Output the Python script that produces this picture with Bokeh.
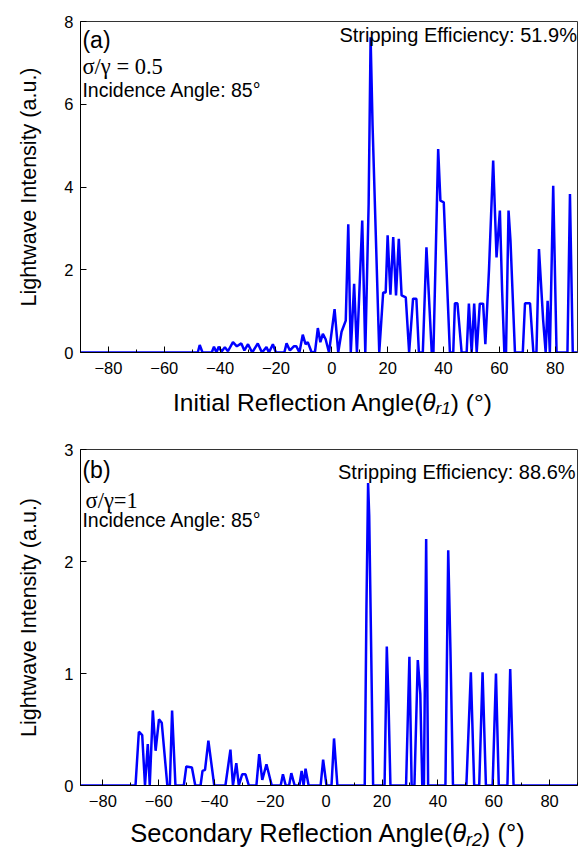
from bokeh.plotting import figure
from bokeh.layouts import column
from bokeh.models import Range1d, Label, Div, FixedTicker
from bokeh.embed import file_html
from bokeh.resources import INLINE

# ---------------- data ----------------
# Panel (a): initial reflection angle vs intensity, sigma/gamma = 0.5
x_a = [-90, -48, -47.3, -46.3, -43, -42.2, -41.3, -40.5, -39.5, -38.3, -37.2, -35.4, -34, -32.4,
       -31.3, -30, -28.5, -26.5, -25, -23.4, -22.5, -21.1, -20, -17, -16.2, -15, -13.6, -12.7,
       -11.6, -10.4, -9.4, -8.6, -7.2, -6, -5, -4.1, -3.2, -2.2, -1.0, 1.0, 2.3, 3.5, 5.0, 5.9,
       6.8, 8.0, 9.0, 10.9, 12.0, 13.2, 13.9, 14.6, 17.0, 18.4, 19.3, 20.0, 21.0, 22.0, 23.0,
       24.0, 25.0, 26.5, 27.7, 29.1, 30.3, 31.2, 32.6, 33.9, 35.8, 36.4, 38.1, 38.9, 40.1, 42.3,
       43.5, 44.1, 45.0, 46.5, 48.3, 49.1, 50.1, 51.0, 51.9, 53.0, 54.2, 55.0, 56.3, 57.8, 59.0,
       60.2, 61.0, 61.8, 62.4, 63.3, 64.0, 65.6, 68.4, 69.2, 71.0, 72.2, 73.3, 74.2, 75.7, 76.6,
       77.3, 78.1, 79.3, 80.5, 84.4, 85.3, 86.3, 88]
y_a = [0, 0, 0.18, 0, 0, 0.14, 0, 0.14, 0.02, 0.13, 0.03, 0.25, 0.15, 0.22,
       0.05, 0.2, 0, 0.22, 0, 0.13, 0, 0.2, 0, 0, 0.22, 0.05, 0.15, 0.15,
       0, 0.43, 0.2, 0.25, 0, 0.02, 0.59, 0.25, 0.45, 0.32, 0, 1.05, 0, 0.5, 0.77, 3.1,
       0, 1.66, 0, 3.19, 0, 3.6, 7.62, 5.5, 0, 1.45, 1.45, 2.83, 1.4, 2.79, 1.38,
       2.75, 1.38, 1.33, 0, 1.3, 1.3, 0, 0, 2.54, 0, 0, 4.92, 3.67, 3.63, 0,
       0, 1.19, 1.19, 0, 0, 1.18, 0, 1.18, 0, 1.18, 1.18, 0.2, 2.0, 4.64, 2.3,
       3.43, 1.5, 0, 0, 3.43, 2.7, 0, 0, 1.19, 1.19, 0, 0, 2.5, 0.78, 0,
       1.25, 0, 4.03, 0, 0, 3.83, 0, 0]

# Panel (b): secondary reflection angle vs intensity, sigma/gamma = 1
x_b = [-88, -68.3, -67.1, -65.9, -64.9, -63.9, -63.2, -62.1, -61.1, -59.9, -58.9, -56.9, -56.0,
       -55.2, -54.0, -51.0, -50.1, -48.1, -46.9, -45.0, -44.3, -43.4, -42.2, -40.1, -36.1, -34.3,
       -33.4, -32.2, -31.3, -30.1, -28.9, -27.7, -25.0, -24.0, -22.9, -21.4, -19.5, -16.3, -15.5,
       -14.5, -13.3, -12.5, -11.3, -9.6, -8.8, -8.1, -7.4, -6.3, -2.0, -1.1, 0.1, 1.9, 2.8, 4.0,
       13.8, 14.4, 15.0, 15.4, 16.0, 16.8, 20.9, 21.7, 22.3, 23.0, 28.6, 29.8, 30.6, 31.6, 32.8,
       33.7, 34.4, 35.0, 35.8, 36.5, 42.7, 43.7, 44.5, 45.4, 50.2, 51.8, 53.0, 54.8, 56.0, 57.2,
       59.6, 60.8, 61.8, 64.9, 65.9, 67.1, 90]
y_b = [0, 0, 0.48, 0.45, 0, 0.37, 0, 0.67, 0.31, 0.59, 0.56, 0, 0,
       0.67, 0, 0, 0.17, 0.16, 0, 0, 0.13, 0.14, 0.4, 0, 0, 0.32,
       0, 0.2, 0, 0.1, 0.1, 0, 0, 0.28, 0.05, 0.19, 0, 0, 0.1,
       0, 0, 0.11, 0, 0, 0.13, 0, 0.15, 0, 0, 0.23, 0, 0, 0.42, 0,
       0, 1.56, 2.7, 2.41, 1.4, 0, 0, 1.24, 0.76, 0, 0, 1.15, 0, 0, 1.12,
       0.82, 0, 0, 2.2, 0, 0, 2.1, 1.2, 0, 0, 1.01, 0, 0, 1.01, 0,
       0, 1.0, 0, 0, 1.04, 0, 0]

x_ticks = [-80, -60, -40, -20, 0, 20, 40, 60, 80]
x_minor = [-90, -70, -50, -30, -10, 10, 30, 50, 70, 90]
y_ticks_a = [0, 2, 4, 6, 8]
y_ticks_b = [0, 1, 2, 3]

FONT = "Liberation Sans"
SERIF = "Liberation Serif"


def style(p, yticks):
    p.xaxis.ticker = FixedTicker(ticks=x_ticks, minor_ticks=x_minor)
    p.yaxis.ticker = FixedTicker(ticks=yticks)
    for ax in (p.xaxis[0], p.yaxis[0]):
        ax.major_tick_in = 6
        ax.major_tick_out = 0
        ax.minor_tick_in = 3
        ax.minor_tick_out = 0
        ax.major_label_text_font = FONT
        ax.major_label_text_font_size = "16.5px"
        ax.major_label_text_color = "black"
        ax.axis_line_color = "black"
        ax.major_tick_line_color = "black"
        ax.minor_tick_line_color = "black"
    p.xaxis.major_label_standoff = 9
    p.yaxis.major_label_standoff = 7
    p.yaxis.minor_tick_line_color = None
    p.yaxis.axis_label = "Lightwave Intensity (a.u.)"
    p.yaxis.axis_label_text_font = FONT
    p.yaxis.axis_label_text_font_style = "normal"
    p.yaxis.axis_label_text_font_size = "21.5px"
    p.yaxis.axis_label_text_color = "black"
    p.yaxis.axis_label_standoff = 20
    p.xgrid.grid_line_color = None
    p.ygrid.grid_line_color = None
    p.outline_line_color = "#333333"
    p.outline_line_width = 1
    p.background_fill_color = "white"
    p.border_fill_color = "white"


def add_text(p, x, y, text, size, align="left", font=FONT):
    p.add_layout(Label(x=x, y=y, text=text, text_font=font, text_font_size=size,
                       text_align=align, text_baseline="top", text_color="black"))


# ---------------- panel (a) ----------------
p1 = figure(width=581, height=390, x_range=Range1d(-90, 88), y_range=Range1d(0, 8),
            output_backend="svg", toolbar_location=None,
            min_border_left=80, min_border_right=4, min_border_top=21, min_border_bottom=38)
style(p1, y_ticks_a)
p1.line(x_a, y_a, line_color="#0000ff", line_width=2.5)
add_text(p1, -89.3, 7.87, "(a)", "23px")
add_text(p1, -89.3, 7.22, "σ/γ = 0.5", "22.5px", font=SERIF)
add_text(p1, -89.3, 6.62, "Incidence Angle: 85°", "19.5px")
add_text(p1, 87.8, 7.95, "Stripping Efficiency: 51.9%", "20px", align="right")

SUB = '<sub style="line-height:0;font-size:0.7em;vertical-align:-0.2em;"><i>'
div1 = Div(text='<div style="box-sizing:border-box;padding-left:84px;width:581px;text-align:center;'
                'line-height:24px;white-space:nowrap;'
                'font-family:\'Liberation Sans\';font-size:24.5px;color:black;margin-top:1px;">'
                'Initial Reflection Angle(<i>θ</i>' + SUB + 'r1</i></sub>) (°)</div>',
           width=581, height=50, margin=0)

# ---------------- panel (b) ----------------
p2 = figure(width=581, height=375, x_range=Range1d(-88, 90), y_range=Range1d(0, 3),
            output_backend="svg", toolbar_location=None,
            min_border_left=78, min_border_right=4, min_border_top=9, min_border_bottom=30)
style(p2, y_ticks_b)
p2.line(x_b, y_b, line_color="#0000ff", line_width=2.5)
add_text(p2, -87.3, 2.93, "(b)", "23px")
add_text(p2, -86.2, 2.66, "σ/γ=1", "22.5px", font=SERIF)
add_text(p2, -87.3, 2.47, "Incidence Angle: 85°", "19.5px")
add_text(p2, 89.3, 2.9, "Stripping Efficiency: 88.6%", "20px", align="right")

div2 = Div(text='<div style="box-sizing:border-box;padding-left:74px;width:581px;text-align:center;'
                'line-height:25px;white-space:nowrap;'
                'font-family:\'Liberation Sans\';font-size:25.5px;color:black;margin-top:6px;">'
                'Secondary Reflection Angle(<i>θ</i>' + SUB + 'r2</i></sub>) (°)</div>',
           width=581, height=36, margin=0)

layout = column(p1, div1, p2, div2, spacing=0)
open("out.html", "w").write(file_html(layout, INLINE))
